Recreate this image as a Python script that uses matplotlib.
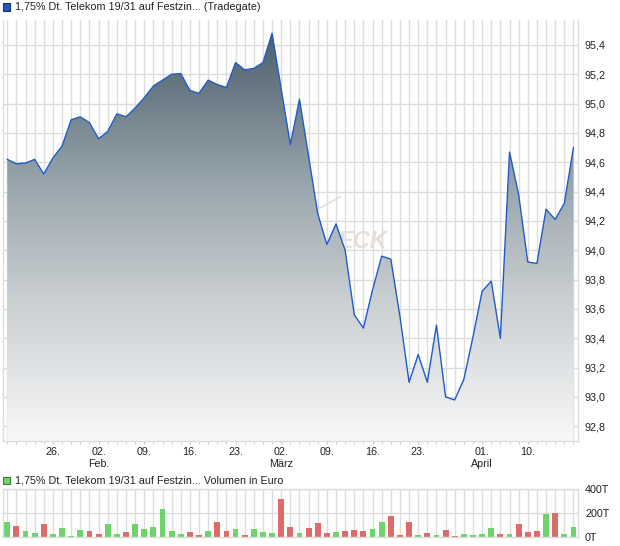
import matplotlib
matplotlib.use("Agg")
import matplotlib.pyplot as plt
import numpy as np
from matplotlib.colors import LinearSegmentedColormap
from matplotlib.patches import Rectangle, Polygon

plt.rcParams['font.family'] = ['Liberation Sans', 'DejaVu Sans']

# ---- data ----
prices = [94.62, 94.59, 94.595, 94.62, 94.52, 94.63, 94.71, 94.89, 94.91, 94.87,
          94.76, 94.81, 94.93, 94.91, 94.97, 95.04, 95.12, 95.16, 95.20, 95.205,
          95.09, 95.07, 95.16, 95.13, 95.11, 95.28, 95.23, 95.24, 95.28, 95.48,
          95.10, 94.72, 95.03, 94.64, 94.25, 94.04, 94.18, 94.00, 93.56, 93.47,
          93.73, 93.96, 93.94, 93.55, 93.10, 93.29, 93.10, 93.49, 93.00, 92.98,
          93.12, 93.41, 93.72, 93.79, 93.40, 94.67, 94.38, 93.92, 93.91, 94.28,
          94.21, 94.32, 94.70]

volumes = [124, 90, 48, 31, 107, 23, 73, 6, 56, 48,
           23, 107, 23, 39, 107, 65, 82, 234, 48, 23,
           39, 14, 48, 124, 48, 65, 14, 65, 39, 31,
           318, 82, 31, 73, 115, 31, 39, 48, 56, 48,
           65, 124, 175, 14, 124, 14, 31, 14, 56, 6,
           23, 14, 23, 73, 23, 23, 107, 39, 48, 192,
           200, 23, 82]

vol_up = [1, 0, 1, 1, 0, 1, 1, 1, 1, 0,
          0, 1, 1, 0, 1, 1, 1, 1, 1, 1,
          0, 0, 1, 0, 0, 1, 0, 1, 1, 1,
          0, 0, 1, 0, 0, 0, 1, 0, 0, 0,
          1, 1, 0, 0, 0, 1, 0, 1, 0, 0,
          1, 1, 1, 1, 0, 1, 0, 0, 0, 1,
          0, 1, 1]

tick_pos = [5, 10, 15, 20, 25, 30, 35, 40, 45, 52, 57]
tick_labels = ["26.", "02.\nFeb.", "09.", "16.", "23.", "02.\nMärz",
               "09.", "16.", "23.", "01.\nApril", "10."]

price_ticks = [92.8, 93.0, 93.2, 93.4, 93.6, 93.8, 94.0, 94.2, 94.4, 94.6, 94.8, 95.0, 95.2, 95.4]
vol_ticks = [0, 200, 400]
vol_tick_labels = ["0T", "200T", "400T"]

title_price = "1,75% Dt. Telekom 19/31 auf Festzin... (Tradegate)"
title_vol = "1,75% Dt. Telekom 19/31 auf Festzin... Volumen in Euro"

# ---- styling ----
W, H = 620, 546
GRID = "#dcdcdc"
LINE = "#1f5cc8"
TXT = "#222222"
UP = "#6cd46a"
DOWN = "#dd6b6b"
FS = 7.75

fig = plt.figure(figsize=(W / 100, H / 100), dpi=100)

def fx(px):
    return px / W

def fy(py):
    return 1 - py / H

ax_l, ax_r = 2.7, 578
ax = fig.add_axes([fx(ax_l), fy(441), fx(ax_r) - fx(ax_l), fy(20) - fy(441)])
axv = fig.add_axes([fx(ax_l), fy(536.7), fx(ax_r) - fx(ax_l), fy(489.3) - fy(536.7)])

n = len(prices)
x = np.arange(n)
ymin, ymax = 92.70, 95.57

# ---- main price chart ----
ax.set_xlim(-0.5, n - 0.5)
ax.set_ylim(ymin, ymax)
ax.set_axisbelow(True)
ax.set_xticks(x, minor=True)
ax.set_xticks(tick_pos)
ax.set_xticklabels(tick_labels, fontsize=FS, color=TXT, linespacing=1.2)
ax.set_yticks(price_ticks)
ax.set_yticklabels([f"{v:.1f}".replace(".", ",") for v in price_ticks], fontsize=FS, color=TXT)
ax.yaxis.tick_right()
ax.tick_params(axis='y', length=0, pad=5)
ax.tick_params(axis='x', which='both', length=2.5, color="#c8c8c8", pad=2)
ax.grid(True, which='minor', axis='x', color=GRID, lw=1.0)
ax.grid(True, which='major', axis='x', color=GRID, lw=1.0)
ax.grid(True, which='major', axis='y', color=GRID, lw=1.0)
for s in ['left', 'right', 'bottom']:
    ax.spines[s].set_color(GRID)
    ax.spines[s].set_linewidth(1.0)
ax.spines['top'].set_visible(False)

# watermark (behind the fill)
ax.text(0.582, 0.475, "ECK", transform=ax.transAxes, fontsize=17, fontweight='bold',
        fontstyle='italic', color="#e4dfd8", ha='left', va='center', zorder=0.8)
ax.plot([0.548, 0.587], [0.551, 0.580], transform=ax.transAxes, color="#e4dfd8",
        lw=1.3, zorder=0.8, solid_capstyle='round')

# gradient fill under the line
verts = [(x[0], ymin)] + list(zip(x, prices)) + [(x[-1], ymin)]
poly = Polygon(verts, closed=True, facecolor='none', edgecolor='none')
ax.add_patch(poly)
cmap = LinearSegmentedColormap.from_list(
    "g", [(0.0, "#f8f8f9"), (0.35, "#c9ced1"), (0.62, "#9aa7ae"), (1.0, "#4d606c")])
grad = np.linspace(0, 1, 512).reshape(-1, 1)
im = ax.imshow(grad, cmap=cmap, aspect='auto', origin='lower',
               extent=[-0.5, n - 0.5, ymin, max(prices)], zorder=1, interpolation='bilinear')
im.set_clip_path(poly)
ax.plot(x, prices, color=LINE, lw=1.0, zorder=2)
ax.set_xlim(-0.5, n - 0.5)
ax.set_ylim(ymin, ymax)

# ---- volume chart ----
cols = [UP if u else DOWN for u in vol_up]
axv.set_axisbelow(True)
axv.bar(x, volumes, width=0.64, color=cols, zorder=2)
axv.set_xlim(-0.5, n - 0.5)
axv.set_ylim(0, 400)
axv.set_xticks(x)
axv.set_xticklabels([])
axv.tick_params(axis='x', length=0)
axv.set_yticks(vol_ticks)
axv.set_yticklabels(vol_tick_labels, fontsize=FS, color=TXT)
axv.yaxis.tick_right()
axv.tick_params(axis='y', length=0, pad=5)
axv.grid(True, axis='both', color=GRID, lw=1.0)
for s in ['left', 'right', 'top', 'bottom']:
    axv.spines[s].set_color(GRID)
    axv.spines[s].set_linewidth(1.0)

# ---- legends (figure level) ----
fig.patches.append(Rectangle((fx(3.3), fy(10.7)), fx(7), fy(3.3) - fy(10.7),
                             transform=fig.transFigure, facecolor="#2557c4",
                             edgecolor="#1b2f63", lw=0.8))
fig.text(fx(15), fy(7), title_price, fontsize=FS, color=TXT, va='center', ha='left')
fig.patches.append(Rectangle((fx(3.3), fy(484)), fx(7), fy(476.7) - fy(484),
                             transform=fig.transFigure, facecolor=UP,
                             edgecolor="#3d7a3b", lw=0.8))
fig.text(fx(15), fy(480.3), title_vol, fontsize=FS, color=TXT, va='center', ha='left')

fig.savefig("out.png", dpi=100)
